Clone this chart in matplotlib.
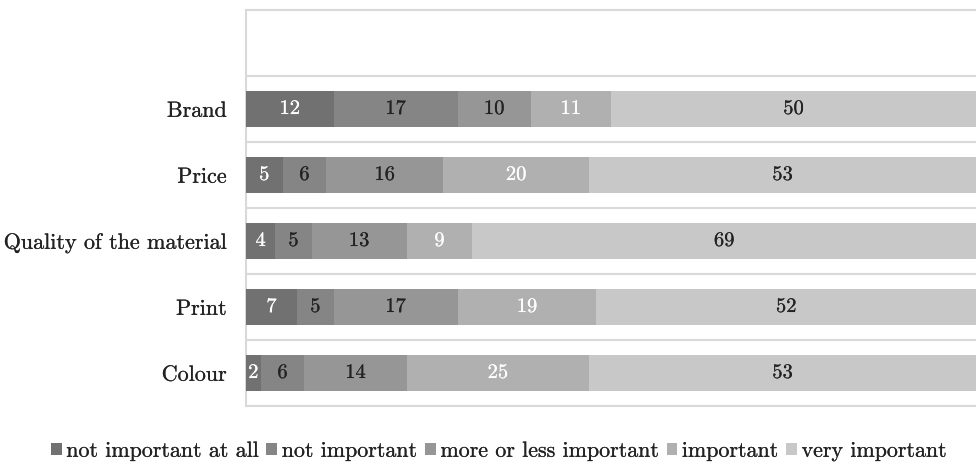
import matplotlib
matplotlib.use("Agg")
import matplotlib.pyplot as plt
import matplotlib.patheffects as pe
import numpy as np

categories = ["Brand", "Price", "Quality of the material", "Print", "Colour"]
series_names = ["not important at all", "not important", "more or less important",
                "important", "very important"]
values = {
    "not important at all":   [12, 5, 4, 7, 2],
    "not important":          [17, 6, 5, 5, 6],
    "more or less important": [10, 16, 13, 17, 14],
    "important":              [11, 20, 9, 19, 25],
    "very important":         [50, 53, 69, 52, 53],
}
colors = ["#717171", "#858585", "#969696", "#b0b0b0", "#c8c8c8"]
label_colors = ["white", "#222222", "#222222", "white", "#222222"]

plt.rcParams["font.family"] = ["cmr10", "DejaVu Serif"]
plt.rcParams["axes.formatter.use_mathtext"] = True


def thicken(color, w=0.15):
    return [pe.withStroke(linewidth=w, foreground=color)]


fig = plt.figure(figsize=(9.76, 4.65), dpi=100)
ax = fig.add_axes([246 / 976, 1 - 406 / 465, 730 / 976, 396 / 465])

n = len(categories)
ypos = np.arange(n)[::-1]  # Brand at top
left = np.zeros(n)
for name, col, lc in zip(series_names, colors, label_colors):
    vals = np.array(values[name], dtype=float)
    bars = ax.barh(ypos, vals, left=left, height=0.55, color=col, label=name,
                   edgecolor="none", zorder=3)
    for b, v in zip(bars, vals):
        ax.text(b.get_x() + b.get_width() / 2, b.get_y() + b.get_height() / 2,
                f"{int(v)}", ha="center", va="center", color=lc, fontsize=14.8,
                zorder=4, path_effects=thicken(lc, 0.12))
    left += vals

ax.set_xlim(0, 100)
ax.set_ylim(-0.5, n + 0.5)
ax.set_yticks(ypos)
ax.set_yticklabels(categories, fontsize=15.9)
for t in ax.get_yticklabels():
    t.set_color("#222222")
    t.set_path_effects(thicken("#222222"))
ax.set_xticks([])
ax.tick_params(axis="y", length=0, pad=14)

ax.set_yticks(np.arange(-0.5, n + 0.5, 1.0), minor=True)
ax.tick_params(axis="y", which="minor", length=0)
ax.grid(axis="y", which="minor", color="#d9d9d9", linewidth=1.5, zorder=0)

for side in ["left", "top", "bottom"]:
    ax.spines[side].set_color("#d9d9d9")
    ax.spines[side].set_linewidth(1.5)
ax.spines["right"].set_visible(False)

leg = fig.legend(loc="center", bbox_to_anchor=(498.5 / 976, 1 - 451 / 465), ncol=5,
                 frameon=False, fontsize=15.8, handlelength=0.5, handleheight=0.5,
                 handletextpad=0.2, columnspacing=0.38)
for t in leg.get_texts():
    t.set_color("#222222")
    t.set_path_effects(thicken("#222222"))

fig.savefig("out.png", dpi=100)
